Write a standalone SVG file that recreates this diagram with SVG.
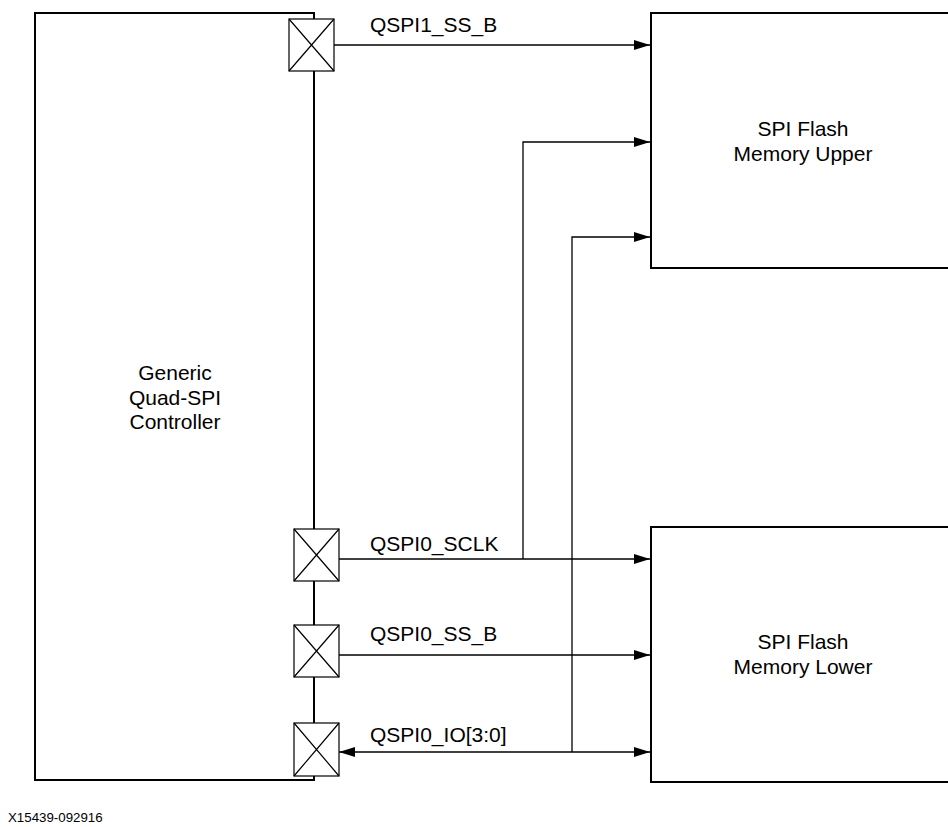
<svg xmlns="http://www.w3.org/2000/svg" width="948" height="827" viewBox="0 0 948 827">
<style>
.box{fill:#fff;stroke:#000;stroke-width:2}
.pad{fill:#fff;stroke:#000;stroke-width:1.2}
.w{fill:none;stroke:#000;stroke-width:1.3}
text{font-family:"Liberation Sans",Arial,sans-serif;font-size:21px;fill:#000}
.c{text-anchor:middle}
</style>
<defs>
<marker id="ah" markerWidth="16" markerHeight="10" refX="16" refY="5" orient="auto" markerUnits="userSpaceOnUse">
<path d="M0,0 L16,5 L0,10 Z" fill="#000"/>
</marker>
<marker id="ahs" markerWidth="16" markerHeight="10" refX="16" refY="5" orient="auto-start-reverse" markerUnits="userSpaceOnUse">
<path d="M0,0 L16,5 L0,10 Z" fill="#000"/>
</marker>
</defs>
<rect width="948" height="827" fill="#fff"/>
<g id="controller">
<rect class="box" x="35" y="13" width="279" height="767"/>
<text class="c" x="175" y="380">Generic</text>
<text class="c" x="175" y="404.5">Quad-SPI</text>
<text class="c" x="175" y="429">Controller</text>
</g>
<g id="upper">
<rect class="box" x="651" y="13" width="300" height="255"/>
<text class="c" x="803" y="136">SPI Flash</text>
<text class="c" x="803" y="161">Memory Upper</text>
</g>
<g id="lower">
<rect class="box" x="651" y="527" width="300" height="255"/>
<text class="c" x="803" y="649">SPI Flash</text>
<text class="c" x="803" y="674">Memory Lower</text>
</g>
<g id="pad-qspi1-ss">
<rect class="pad" x="289" y="19" width="45" height="52"/>
<path class="pad" d="M289,19 L334,71 M334,19 L289,71"/>
</g>
<g id="pad-qspi0-sclk">
<rect class="pad" x="294" y="529" width="45" height="52"/>
<path class="pad" d="M294,529 L339,581 M339,529 L294,581"/>
</g>
<g id="pad-qspi0-ss">
<rect class="pad" x="294" y="625" width="45" height="52"/>
<path class="pad" d="M294,625 L339,677 M339,625 L294,677"/>
</g>
<g id="pad-qspi0-io">
<rect class="pad" x="294" y="723" width="45" height="53"/>
<path class="pad" d="M294,723 L339,776 M339,723 L294,776"/>
</g>
<g id="connectors">
<path class="w" d="M334,45 H650" marker-end="url(#ah)"/>
<path class="w" d="M339,559 H650" marker-end="url(#ah)"/>
<path class="w" d="M523,559 V142 H650" marker-end="url(#ah)"/>
<path class="w" d="M339,655 H650" marker-end="url(#ah)"/>
<path class="w" d="M339,752 H650" marker-start="url(#ahs)" marker-end="url(#ah)"/>
<path class="w" d="M572,752 V237 H650" marker-end="url(#ah)"/>
<text x="370" y="32">QSPI1_SS_B</text>
<text x="370" y="551">QSPI0_SCLK</text>
<text x="370" y="641">QSPI0_SS_B</text>
<text x="370" y="742">QSPI0_IO[3:0]</text>
</g>
<text x="8" y="822" style="font-size:13.3px">X15439-092916</text>
</svg>
